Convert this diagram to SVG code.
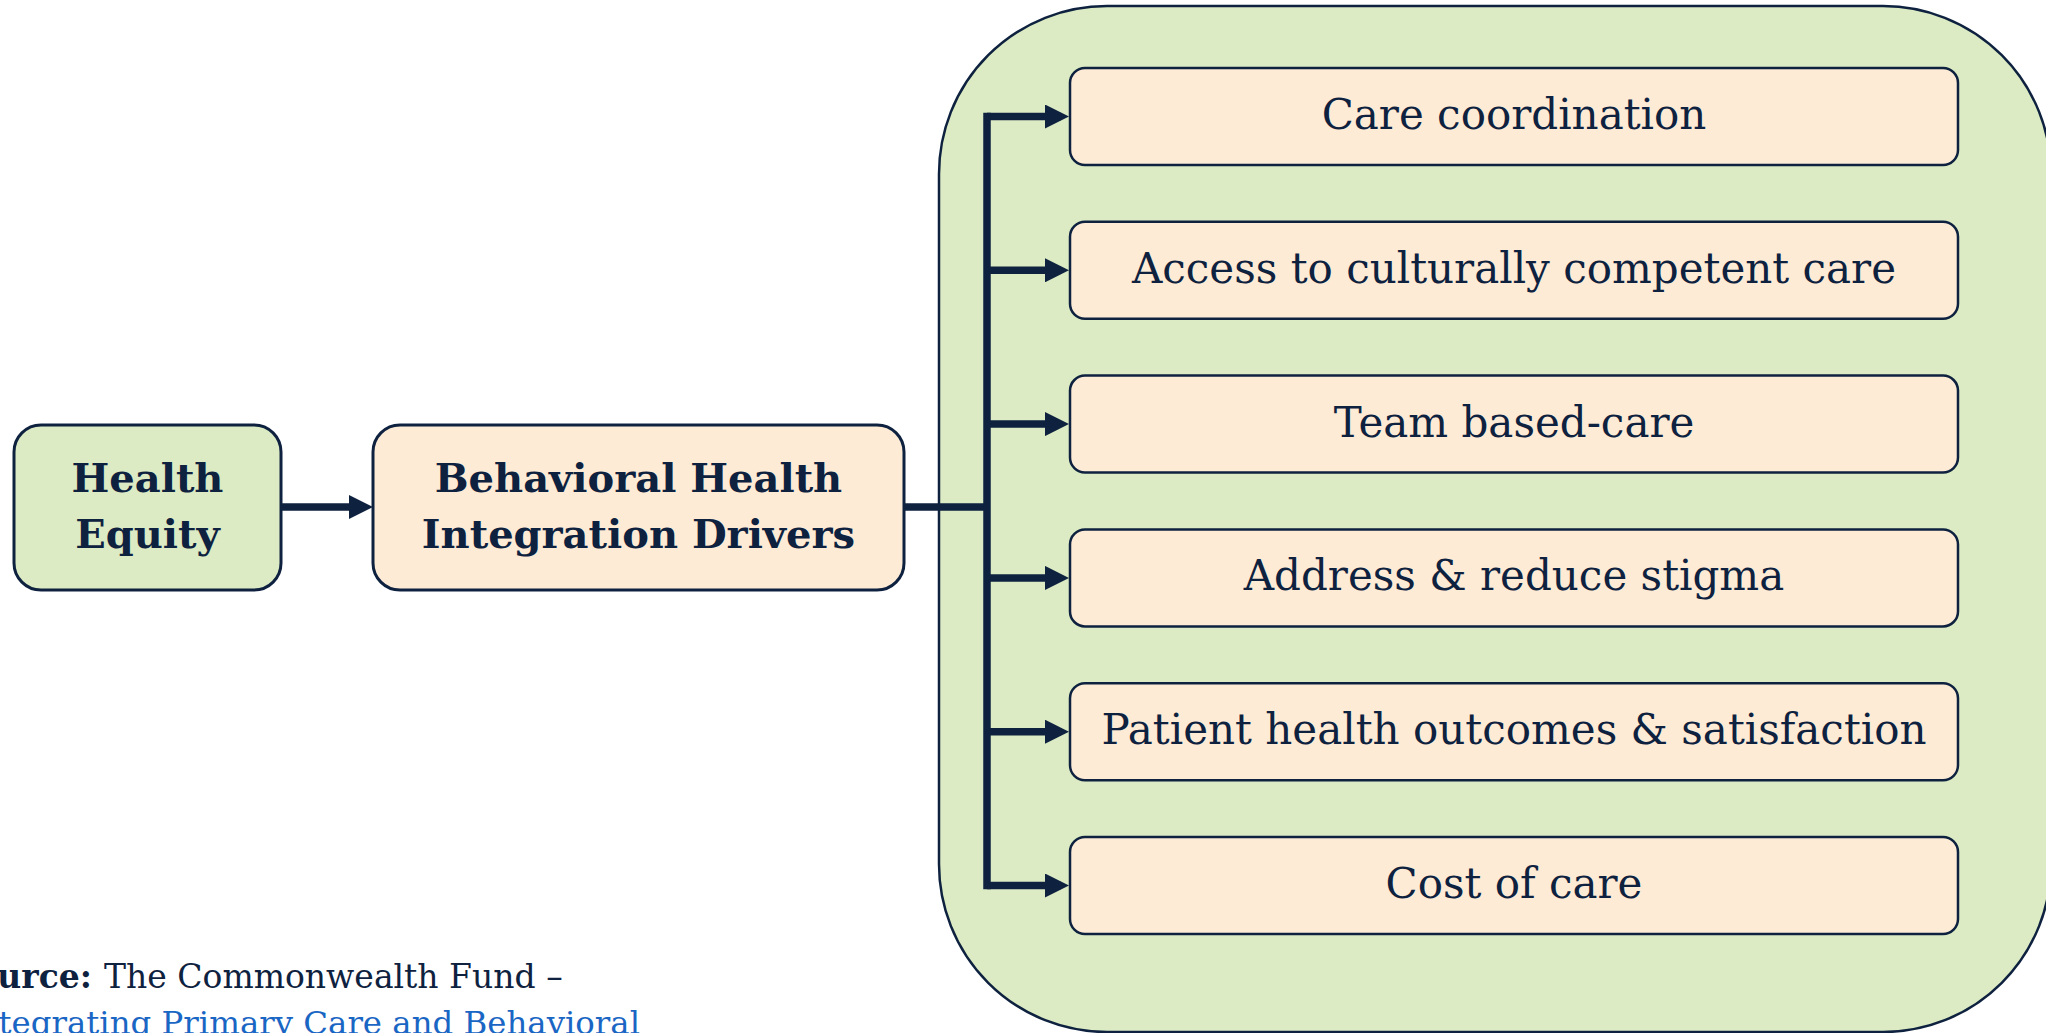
<svg xmlns="http://www.w3.org/2000/svg" width="2046" height="1033" viewBox="0 0 2046 1033">
  <style>
    .title { font-family: "DejaVu Serif", "Liberation Serif", serif; font-weight: bold; font-size: 40px; fill: #0e2240; text-anchor: middle; }
    .item { font-family: "DejaVu Serif", "Liberation Serif", serif; font-size: 42px; fill: #0e2240; text-anchor: middle; }
    .src { font-family: "DejaVu Serif", "Liberation Serif", serif; font-size: 33px; fill: #0e2240; }
    .link { fill: #1a66c4; font-size: 32.4px; }
    .green { fill: #dcebc3; stroke: #0e2240; }
    .peach { fill: #fdebd6; stroke: #0e2240; }
    .conn { stroke: #0e2240; stroke-width: 7.5; fill: none; }
  </style>
  <defs>
    <marker id="arrow" viewBox="0 0 24 24" refX="16" refY="12" markerWidth="24" markerHeight="24" markerUnits="userSpaceOnUse" orient="auto">
      <path d="M0,0 L24,12 L0,24 Z" fill="#0e2240"/>
    </marker>
  </defs>
  <rect width="2046" height="1033" fill="#ffffff"/>

  <g id="container">
    <rect x="939" y="6" width="1112" height="1026" rx="168" ry="168" class="green" stroke-width="2.5"/>
  </g>

  <g id="connectors">
    <line x1="281" y1="507" x2="365" y2="507" class="conn" marker-end="url(#arrow)"/>
    <line x1="904" y1="507" x2="987" y2="507" class="conn"/>
    <line x1="987" y1="116.5" x2="987" y2="885.5" class="conn" stroke-linecap="square"/>
    <line x1="987" y1="116.5" x2="1061" y2="116.5" class="conn" marker-end="url(#arrow)"/>
    <line x1="987" y1="270.3" x2="1061" y2="270.3" class="conn" marker-end="url(#arrow)"/>
    <line x1="987" y1="424.1" x2="1061" y2="424.1" class="conn" marker-end="url(#arrow)"/>
    <line x1="987" y1="577.9" x2="1061" y2="577.9" class="conn" marker-end="url(#arrow)"/>
    <line x1="987" y1="731.7" x2="1061" y2="731.7" class="conn" marker-end="url(#arrow)"/>
    <line x1="987" y1="885.5" x2="1061" y2="885.5" class="conn" marker-end="url(#arrow)"/>
  </g>

  <g id="health-equity">
    <rect x="14" y="425" width="267" height="165" rx="27" class="green" stroke-width="3"/>
    <text class="title" x="147.5" y="492">Health</text>
    <text class="title" x="147.5" y="548">Equity</text>
  </g>

  <g id="bh-drivers">
    <rect x="373" y="425" width="531" height="165" rx="27" class="peach" stroke-width="3"/>
    <text class="title" x="638.5" y="492">Behavioral Health</text>
    <text class="title" x="638.5" y="548">Integration Drivers</text>
  </g>

  <g id="care-coordination">
    <rect x="1070" y="68" width="888" height="97" rx="15" class="peach" stroke-width="2.5"/>
    <text class="item" x="1514" y="129">Care coordination</text>
  </g>
  <g id="cultural-care">
    <rect x="1070" y="221.8" width="888" height="97" rx="15" class="peach" stroke-width="2.5"/>
    <text class="item" x="1514" y="282.8">Access to culturally competent care</text>
  </g>
  <g id="team-care">
    <rect x="1070" y="375.6" width="888" height="97" rx="15" class="peach" stroke-width="2.5"/>
    <text class="item" x="1514" y="436.6">Team based-care</text>
  </g>
  <g id="stigma">
    <rect x="1070" y="529.4" width="888" height="97" rx="15" class="peach" stroke-width="2.5"/>
    <text class="item" x="1514" y="590.4">Address &amp; reduce stigma</text>
  </g>
  <g id="outcomes">
    <rect x="1070" y="683.2" width="888" height="97" rx="15" class="peach" stroke-width="2.5"/>
    <text class="item" x="1514" y="744.2">Patient health outcomes &amp; satisfaction</text>
  </g>
  <g id="cost">
    <rect x="1070" y="837" width="888" height="97" rx="15" class="peach" stroke-width="2.5"/>
    <text class="item" x="1514" y="898">Cost of care</text>
  </g>

  <g id="source">
    <text class="src" x="92" y="988" text-anchor="end" font-weight="bold">Source:</text>
    <text class="src" x="104" y="988">The Commonwealth Fund –</text>
    <text class="src link" x="640" y="1034" text-anchor="end">Integrating Primary Care and Behavioral</text>
  </g>
</svg>
